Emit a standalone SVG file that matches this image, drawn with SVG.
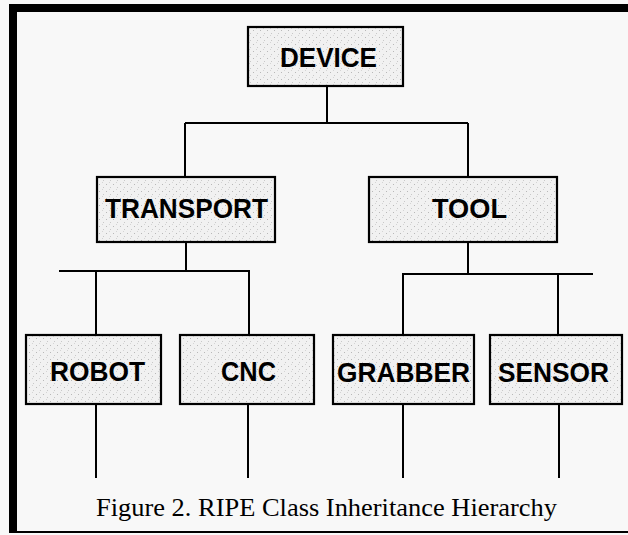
<svg xmlns="http://www.w3.org/2000/svg" width="628" height="535" viewBox="0 0 628 535">
  <defs>
    <pattern id="stip" width="7" height="7" patternUnits="userSpaceOnUse">
      <rect width="7" height="7" fill="#f1f1f1"/>
      <rect x="1" y="2" width="1" height="1" fill="#b8b8b8"/>
      <rect x="5" y="5" width="1" height="1" fill="#c8c8c8"/>
      <rect x="4" y="0" width="1" height="1" fill="#d4d4d4"/>
    </pattern>
    <style>
      .box { fill: url(#stip); stroke: #000; stroke-width: 2.2; }
      .lbl { font-family: "Liberation Sans", Arial, sans-serif; font-weight: bold; font-size: 28px; fill: #000; text-anchor: middle; }
      .conn path { fill: none; stroke: #000; stroke-width: 2; }
      .cap { font-family: "Liberation Serif", "Times New Roman", serif; font-size: 26px; fill: #000; }
    </style>
  </defs>
  <rect width="628" height="535" fill="#f8f8f8"/>
  <g id="frame" fill="#000">
    <rect x="9" y="4" width="619" height="8"/>
    <rect x="9" y="4" width="8" height="529"/>
    <rect x="9" y="531" width="619" height="2"/>
  </g>
  <g class="conn" id="connectors">
    <path d="M327 86 V123 M185 123 H468 M185 123 V177 M468 123 V177"/>
    <path d="M186 242 V271 M59 271 H250 M96 271 V335 M249 271 V335"/>
    <path d="M468 242 V274 M402 274 H593 M403 274 V335 M558 274 V335"/>
    <path d="M96 404 V478 M248 404 V478 M403 404 V478 M559 404 V478"/>
  </g>
  <g id="device">
    <rect class="box" x="248" y="27" width="155" height="59"/>
    <text class="lbl" x="328.5" y="67" textLength="97" lengthAdjust="spacingAndGlyphs">DEVICE</text>
  </g>
  <g id="transport">
    <rect class="box" x="97" y="177" width="178" height="65"/>
    <text class="lbl" x="186.5" y="218" textLength="163" lengthAdjust="spacingAndGlyphs">TRANSPORT</text>
  </g>
  <g id="tool">
    <rect class="box" x="369" y="177" width="188" height="65"/>
    <text class="lbl" x="469.5" y="218" textLength="75" lengthAdjust="spacingAndGlyphs">TOOL</text>
  </g>
  <g id="robot">
    <rect class="box" x="26" y="335" width="135" height="69"/>
    <text class="lbl" x="97.5" y="381" textLength="95" lengthAdjust="spacingAndGlyphs">ROBOT</text>
  </g>
  <g id="cnc">
    <rect class="box" x="180" y="335" width="134" height="69"/>
    <text class="lbl" x="248.5" y="381" textLength="55" lengthAdjust="spacingAndGlyphs">CNC</text>
  </g>
  <g id="grabber">
    <rect class="box" x="333" y="335" width="141" height="69"/>
    <text class="lbl" x="403.5" y="382" textLength="133" lengthAdjust="spacingAndGlyphs">GRABBER</text>
  </g>
  <g id="sensor">
    <rect class="box" x="490" y="335" width="132" height="69"/>
    <text class="lbl" x="553.5" y="382" textLength="111" lengthAdjust="spacingAndGlyphs">SENSOR</text>
  </g>
  <text class="cap" x="96" y="516" textLength="461" lengthAdjust="spacingAndGlyphs">Figure 2. RIPE Class Inheritance Hierarchy</text>
</svg>
